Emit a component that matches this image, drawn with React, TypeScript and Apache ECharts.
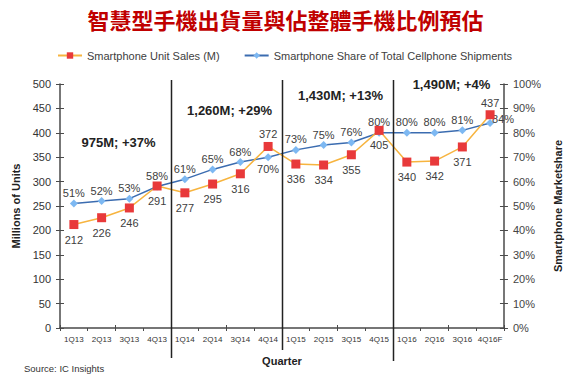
import React, { useEffect, useRef } from "react";
import * as echarts from "echarts";

const categories = [
  "1Q13", "2Q13", "3Q13", "4Q13",
  "1Q14", "2Q14", "3Q14", "4Q14",
  "1Q15", "2Q15", "3Q15", "4Q15",
  "1Q16", "2Q16", "3Q16", "4Q16F",
];
const unitSales = [212, 226, 246, 291, 277, 295, 316, 372, 336, 334, 355, 405, 340, 342, 371, 437];
const shareOfTotal = [51, 52, 53, 58, 61, 65, 68, 70, 73, 75, 76, 80, 80, 80, 81, 84];
const annotationTexts = ["975M; +37%", "1,260M; +29%", "1,430M; +13%", "1,490M; +4%"];

const FONT = "'Liberation Sans', Arial, sans-serif";

export default function App() {
  const ref = useRef<HTMLDivElement>(null);

  useEffect(() => {
    if (!ref.current) return;
    const chart = echarts.init(ref.current, null, { renderer: "svg" });
    const axisColor = "#4a4a4a";
    const labelColor = "#404040";

    const salesLabelTop = new Set([7, 15]);
    const shareLabelPos = (i: number): any => {
      if (i === 7) return { position: "bottom", distance: 2 };
      if (i === 15) return { position: "right", distance: 0, offset: [-2, -4] };
      return { position: "top", distance: 1 };
    };

    const option: any = {
      animation: false,
      textStyle: { fontFamily: FONT },
      title: {
        text: "智慧型手機出貨量與佔整體手機比例預估",
        left: "center",
        top: 3,
        textStyle: {
          fontFamily: "'Noto Sans CJK TC', sans-serif",
          fontSize: 22,
          fontWeight: "bold",
          color: "#c00000",
        },
      },
      legend: {
        left: 52,
        top: 45,
        itemWidth: 24,
        itemHeight: 8,
        itemGap: 24,
        textStyle: { fontSize: 11, color: labelColor, fontFamily: FONT },
        data: ["Smartphone Unit Sales (M)", "Smartphone Share of Total Cellphone Shipments"],
      },
      grid: { left: 60, right: 58, top: 84, bottom: 46 },
      xAxis: [
        {
          type: "category",
          data: categories,
          boundaryGap: true,
          name: "Quarter",
          nameLocation: "middle",
          nameGap: 27,
          nameTextStyle: { fontSize: 11, fontWeight: "bold", color: "#222" },
          axisLine: { lineStyle: { color: axisColor, width: 1.5 } },
          axisTick: { show: true, length: 3, lineStyle: { color: axisColor } },
          axisLabel: { interval: 0, fontSize: 8, color: "#333", margin: 7 },
          splitLine: { show: false },
        },
        {
          type: "category",
          data: categories,
          position: "bottom",
          boundaryGap: true,
          axisLine: { show: false },
          axisTick: { show: true, inside: true, length: 3, lineStyle: { color: axisColor } },
          axisLabel: { show: false },
          splitLine: { show: false },
        },
      ],
      yAxis: [
        {
          type: "value",
          min: 0,
          max: 500,
          interval: 50,
          position: "left",
          name: "Millions of Units",
          nameLocation: "middle",
          nameGap: 28,
          nameRotate: 90,
          nameTextStyle: { fontSize: 11, fontWeight: "bold", color: "#222" },
          axisLine: { show: true, lineStyle: { color: axisColor, width: 1.5 } },
          axisTick: { show: true, length: 4, lineStyle: { color: axisColor } },
          axisLabel: { fontSize: 11, color: "#333", margin: 9 },
          splitLine: { show: false },
        },
        {
          type: "value",
          min: 0,
          max: 100,
          interval: 10,
          position: "right",
          name: "Smartphone Marketshare",
          nameLocation: "middle",
          nameGap: 39,
          nameRotate: 90,
          nameTextStyle: { fontSize: 11, fontWeight: "bold", color: "#222" },
          axisLine: { show: true, lineStyle: { color: axisColor, width: 1.5 } },
          axisTick: { show: true, length: 4, lineStyle: { color: axisColor } },
          axisLabel: { fontSize: 11, color: "#444", margin: 9, formatter: "{value}%" },
          splitLine: { show: false },
        },
        {
          type: "value",
          min: 0,
          max: 500,
          interval: 50,
          position: "left",
          axisLine: { show: false },
          axisTick: { show: true, inside: true, length: 4, lineStyle: { color: axisColor } },
          axisLabel: { show: false },
          splitLine: { show: false },
        },
        {
          type: "value",
          min: 0,
          max: 100,
          interval: 10,
          position: "right",
          axisLine: { show: false },
          axisTick: { show: true, inside: true, length: 4, lineStyle: { color: axisColor } },
          axisLabel: { show: false },
          splitLine: { show: false },
        },
      ],
      series: [
        {
          name: "Smartphone Share of Total Cellphone Shipments",
          type: "line",
          yAxisIndex: 1,
          data: shareOfTotal.map((v, i) => ({
            value: v,
            label: { show: true, ...shareLabelPos(i) },
          })),
          symbol: "diamond",
          symbolSize: 8,
          lineStyle: { color: "#3b6cb0", width: 1.5 },
          itemStyle: { color: "#7db8f2" },
          label: {
            show: true,
            formatter: "{c}%",
            fontSize: 11,
            color: labelColor,
          },
          z: 2,
        },
        {
          name: "Smartphone Unit Sales (M)",
          type: "line",
          yAxisIndex: 0,
          data: unitSales.map((v, i) => ({
            value: v,
            label: {
              show: true,
              position: salesLabelTop.has(i) ? "top" : "bottom",
              distance: salesLabelTop.has(i) ? 2 : 5,
            },
          })),
          symbol: "rect",
          symbolSize: 9,
          lineStyle: { color: "#f7b43f", width: 1.5 },
          itemStyle: { color: "#e8393a" },
          label: {
            show: true,
            fontSize: 11,
            color: labelColor,
          },
          z: 3,
        },
      ],
    };

    chart.setOption(option);

    const px = (i: number) => chart.convertToPixel({ xAxisIndex: 0 }, i) as number;
    const py = (v: number) => chart.convertToPixel({ yAxisIndex: 0 }, v) as number;
    const boundary = (i: number) => (px(i - 1) + px(i)) / 2;

    const dividerIdx = [4, 8, 12];
    const dividerBottoms = [358, 350, 361];
    const annIdx = [2, 6, 10, 14];
    const annValues = [381, 445, 477, 498];

    const graphics: any[] = [];
    dividerIdx.forEach((idx, k) => {
      const x = Math.round(boundary(idx)) + 0.5;
      graphics.push({
        type: "line",
        shape: { x1: x, y1: 80, x2: x, y2: dividerBottoms[k] },
        style: { stroke: "#222", lineWidth: 1.5 },
        z: 10,
      });
    });
    annotationTexts.forEach((t, k) => {
      graphics.push({
        type: "text",
        x: boundary(annIdx[k]) + 3,
        y: py(annValues[k]),
        style: {
          text: t,
          fontFamily: FONT,
          fontSize: 13,
          fontWeight: "bold",
          fill: "#222",
          align: "center",
          verticalAlign: "middle",
        },
        z: 10,
      });
    });
    graphics.push({
      type: "text",
      x: 24,
      y: 368,
      style: {
        text: "Source: IC Insights",
        fontFamily: FONT,
        fontSize: 9.5,
        fill: "#333",
        align: "left",
        verticalAlign: "middle",
      },
    });

    chart.setOption({ graphic: graphics });

    return () => chart.dispose();
  }, []);

  return (
    <div
      ref={ref}
      style={{ position: "fixed", left: 0, top: 0, width: 571, height: 374, background: "#fff" }}
    />
  );
}
